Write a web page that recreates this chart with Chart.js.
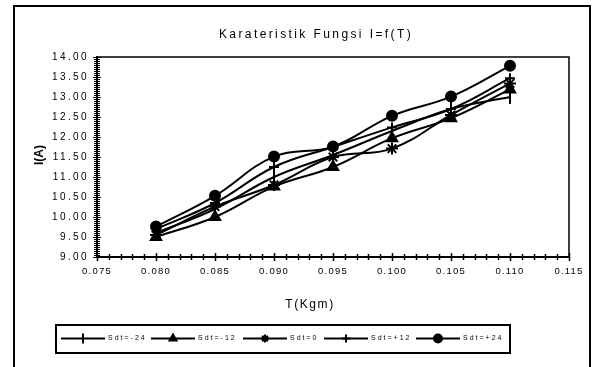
<!DOCTYPE html>
<html>
<head>
<meta charset="utf-8">
<script src="https://cdn.jsdelivr.net/npm/chart.js@4/dist/chart.umd.min.js"></script>
<style>
body{margin:0;background:#fff}
#wrap{position:relative;width:598px;height:367px;overflow:hidden}
#frame{position:absolute;left:13px;top:5px;width:578px;height:380px;border:2px solid #000;box-sizing:border-box}
canvas{position:absolute;left:0;top:0}
</style>
</head>
<body>
<div id="wrap"><div id="frame"></div><canvas id="chart" width="598" height="367"></canvas></div>
<script>
// torsi (x) dan arus (y) tiap setelan Sdt
const torque = [0.080, 0.085, 0.090, 0.095, 0.100, 0.105, 0.110]
const seriesNames = ["Sdt=-24", "Sdt=-12", "Sdt=0", "Sdt=+12", "Sdt=+24"]
const sdtMin24 = [9.60, 10.20, 11.00, 11.55, 12.15, 12.70, 13.00]
const sdtMin12 = [9.50, 10.00, 10.76, 11.25, 11.97, 12.47, 13.19]
const sdt0 = [9.55, 10.26, 10.80, 11.50, 11.71, 12.55, 13.34]
const sdtPlus12 = [9.70, 10.35, 11.25, 11.75, 12.24, 12.70, 13.47]
const sdtPlus24 = [9.76, 10.53, 11.51, 11.76, 12.53, 13.01, 13.78]
const xTicks = [0.075, 0.115, 0.005]
const yTicks = [9, 14, 0.5]

const FONT = "'Liberation Sans', Arial, sans-serif"

function pts(vals){
  return vals.map((v, i) => ({x: torque[i], y: v}))
}

const markers = [
  {pointStyle: "line", rotation: 90, radius: 7},
  {pointStyle: "triangle", rotation: 0, radius: 6},
  {pointStyle: "star", rotation: 0, radius: 6},
  {pointStyle: "cross", rotation: 0, radius: 5},
  {pointStyle: "circle", rotation: 0, radius: 5}
]

const allSeries = [sdtMin24, sdtMin12, sdt0, sdtPlus12, sdtPlus24]

const datasets = allSeries.map((vals, i) => ({
  label: seriesNames[i],
  data: pts(vals),
  borderColor: "#000",
  backgroundColor: "#000",
  borderWidth: 2,
  tension: 0.4,
  pointStyle: markers[i].pointStyle,
  pointRotation: markers[i].rotation,
  pointRadius: markers[i].radius,
  pointBorderWidth: 2,
  pointBackgroundColor: "#000",
  pointBorderColor: "#000"
}))

// label tick dengan jarak huruf lebar
function spaced(chart, scale, spacing){
  if(scale._spaced) return
  const orig = scale.drawLabels.bind(scale)
  scale.drawLabels = function(area){
    const ctx = chart.ctx
    ctx.save()
    ctx.letterSpacing = spacing
    orig(area)
    ctx.restore()
  }
  scale._spaced = true
}

// garis tepi, tick kecil, judul dan legenda
const decor = {
  id: "decor",
  afterLayout(chart){
    spaced(chart, chart.scales.y, "2.4px")
    spaced(chart, chart.scales.x, "1.2px")
  },
  beforeDatasetsDraw(chart){
    const ctx = chart.ctx
    const a = chart.chartArea
    const xs = chart.scales.x
    const ys = chart.scales.y
    ctx.save()
    ctx.strokeStyle = "#000"
    ctx.lineWidth = 1.5
    ctx.beginPath()
    ctx.moveTo(a.left, a.top)
    ctx.lineTo(a.right, a.top)
    ctx.lineTo(a.right, a.bottom)
    ctx.stroke()
    ctx.lineWidth = 1.5
    for(let v = xTicks[0]; v <= xTicks[1] + 1e-9; v += 0.001){
      const px = Math.round(xs.getPixelForValue(v)) + 0.5
      const major = Math.abs(v / 0.005 - Math.round(v / 0.005)) < 1e-6
      const h = major ? 4 : 3
      ctx.beginPath()
      ctx.moveTo(px, a.bottom - h)
      ctx.lineTo(px, a.bottom + h)
      ctx.stroke()
    }
    ctx.lineWidth = 1
    for(let v = yTicks[0]; v <= yTicks[1] + 1e-9; v += 0.05){
      const py = Math.round(ys.getPixelForValue(v)) + 0.5
      const major = Math.abs(v / 0.5 - Math.round(v / 0.5)) < 1e-6
      const h = major ? 4 : 3
      ctx.beginPath()
      ctx.moveTo(a.left - h, py)
      ctx.lineTo(a.left + h, py)
      ctx.stroke()
    }
    ctx.restore()
  },
  afterDraw(chart){
    const ctx = chart.ctx
    ctx.save()
    ctx.fillStyle = "#000"
    ctx.textAlign = "center"
    ctx.textBaseline = "middle"

    ctx.font = "12px " + FONT
    ctx.letterSpacing = "2.4px"
    ctx.fillText("Karateristik Fungsi I=f(T)", 316, 35)
    ctx.letterSpacing = "1.6px"
    ctx.fillText("T(Kgm)", 310, 305)

    ctx.save()
    ctx.translate(40, 155)
    ctx.rotate(-Math.PI / 2)
    ctx.font = "bold 12px " + FONT
    ctx.letterSpacing = "0px"
    ctx.fillText("I(A)", 0, 0)
    ctx.restore()

    // kotak legenda
    ctx.strokeStyle = "#000"
    ctx.lineWidth = 2
    ctx.strokeRect(56, 325, 454, 28)
    const itemX = [61, 151, 243, 324, 416]
    const cy = 338.5
    ctx.font = "7px " + FONT
    ctx.letterSpacing = "2px"
    ctx.textAlign = "left"
    chart.data.datasets.forEach((ds, i) => {
      const x0 = itemX[i]
      ctx.lineWidth = 2
      ctx.beginPath()
      ctx.moveTo(x0, cy)
      ctx.lineTo(x0 + 44, cy)
      ctx.stroke()
      ctx.fillStyle = "#000"
      Chart.helpers.drawPoint(ctx, {
        pointStyle: ds.pointStyle,
        rotation: ds.pointRotation,
        radius: ds.pointStyle === "line" ? 5 : 4,
        borderWidth: 2
      }, x0 + 22, cy)
      ctx.fillText(ds.label, x0 + 47, cy)
    })
    ctx.restore()
  }
}

new Chart(document.getElementById("chart"), {
  type: "line",
  data: {datasets: datasets},
  options: {
    responsive: false,
    animation: false,
    layout: {padding: {left: 0, top: 57, right: 29, bottom: 80}},
    plugins: {legend: {display: false}, tooltip: {enabled: false}},
    scales: {
      x: {
        type: "linear",
        min: xTicks[0],
        max: xTicks[1],
        afterFit(s){ s.height = 30 },
        grid: {display: false, drawTicks: false},
        border: {display: true, color: "#000", width: 2},
        ticks: {
          stepSize: xTicks[2],
          padding: 9,
          color: "#000",
          font: {family: FONT, size: 9.5},
          callback: v => v.toFixed(3)
        }
      },
      y: {
        min: yTicks[0],
        max: yTicks[1],
        afterFit(s){ s.width = 97 },
        grid: {display: false, drawTicks: false},
        border: {display: true, color: "#000", width: 2},
        ticks: {
          stepSize: yTicks[2],
          padding: 8,
          color: "#000",
          font: {family: FONT, size: 10},
          callback: v => v.toFixed(2)
        }
      }
    }
  },
  plugins: [decor]
})
</script>
</body>
</html>
